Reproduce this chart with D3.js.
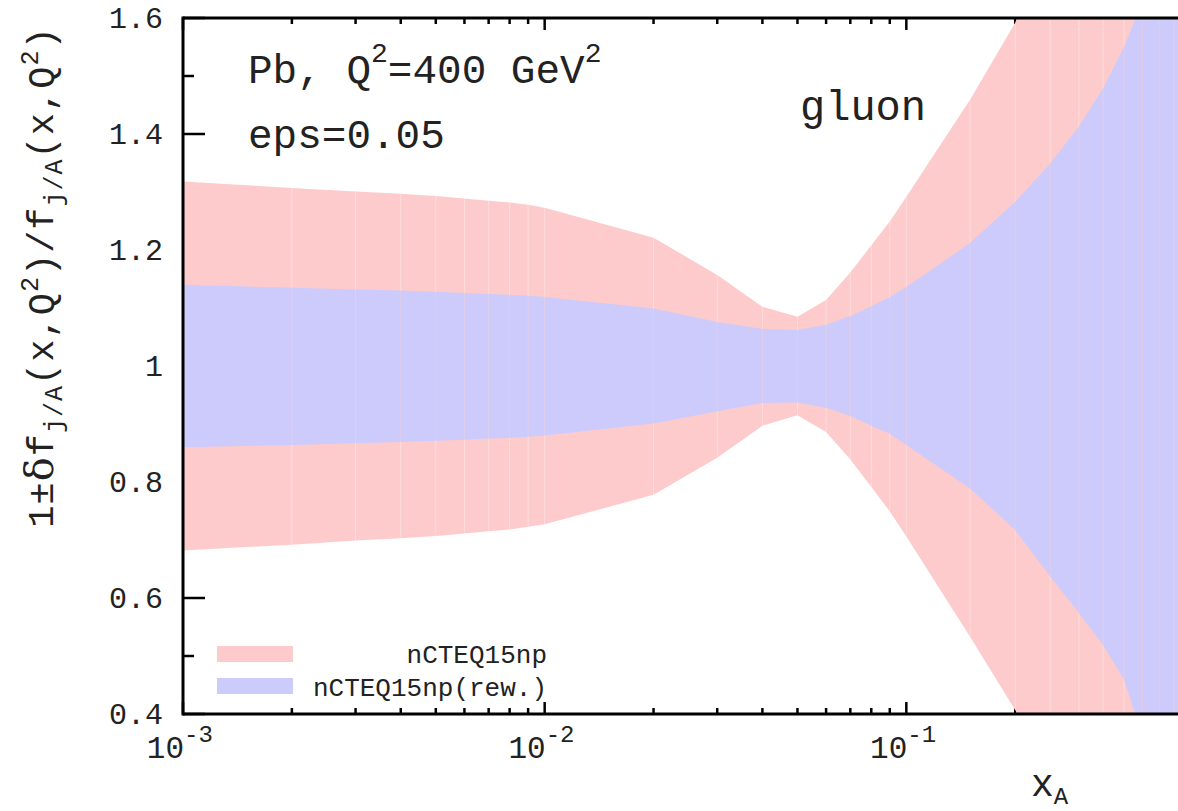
<!DOCTYPE html>
<html>
<head>
<meta charset="utf-8">
<script src="https://cdn.jsdelivr.net/npm/d3@7"></script>
<style>
  body { margin: 0; background: #fff; }
  text { font-family: "Liberation Mono", "DejaVu Sans Mono", monospace; fill: #222; }
</style>
</head>
<body>
<div id="chart"></div>
<script>
// x grid of the bands (x_A)
var xGrid = [0.001, 0.002, 0.003, 0.004, 0.005, 0.006, 0.007, 0.008, 0.009,
             0.01, 0.02, 0.03, 0.04, 0.05, 0.06, 0.07, 0.08, 0.09,
             0.1, 0.15, 0.2, 0.25, 0.3, 0.35, 0.4, 0.45, 0.5, 0.55, 0.6];

// nCTEQ15np band (upper / lower)
var pinkUp = [1.318, 1.307, 1.301, 1.297, 1.293, 1.289, 1.285, 1.282, 1.278,
              1.273, 1.221, 1.157, 1.102, 1.085, 1.114, 1.161, 1.208, 1.249,
              1.292, 1.459, 1.592, 1.75, 1.92, 2.10, 2.30, 2.50, 2.70, 2.90, 3.10];
var pinkLo = [0.682, 0.692, 0.699, 0.703, 0.707, 0.711, 0.715, 0.718, 0.723,
              0.727, 0.778, 0.842, 0.897, 0.915, 0.886, 0.839, 0.792, 0.749,
              0.706, 0.533, 0.407, 0.29, 0.18, 0.07, -0.04, -0.15, -0.26, -0.37, -0.48];

// nCTEQ15np(rew.) band
var blueUp = [1.140, 1.135, 1.132, 1.130, 1.128, 1.126, 1.124, 1.123, 1.121,
              1.119, 1.099, 1.076, 1.064, 1.062, 1.071, 1.086, 1.103, 1.119,
              1.136, 1.212, 1.283, 1.349, 1.413, 1.479, 1.550, 1.63, 1.71, 1.79, 1.87];
var blueLo = [0.860, 0.864, 0.867, 0.869, 0.871, 0.873, 0.875, 0.876, 0.878,
              0.880, 0.901, 0.922, 0.936, 0.937, 0.928, 0.914, 0.897, 0.883,
              0.864, 0.789, 0.717, 0.637, 0.574, 0.519, 0.459, 0.36, 0.27, 0.18, 0.09];

var yTicks = [0.4, 0.6, 0.8, 1, 1.2, 1.4, 1.6];
var yMinor = [0.5, 0.7, 0.9, 1.1, 1.3, 1.5];
var xDecades = [0.001, 0.01, 0.1];
var xDecadeExp = ["-3", "-2", "-1"];
var legNames = ["nCTEQ15np", "nCTEQ15np(rew.)"];

(function() {
  var W = 1178, H = 811;
  // frame runs past the right edge of the picture
  var mLeft = 183, mTop = 18, mBottom = 714, mRight = 1268;

  var svg = d3.select("#chart").append("svg")
      .attr("width", W).attr("height", H);

  var x = d3.scaleLog().domain([0.001, 1]).range([mLeft, mRight]);
  var y = d3.scaleLinear().domain([0.4, 1.6]).range([mBottom, mTop]);

  svg.append("clipPath").attr("id", "plotclip")
    .append("rect").attr("x", mLeft).attr("y", mTop)
    .attr("width", mRight - mLeft).attr("height", mBottom - mTop);

  // minor x ticks (2..9 in every decade)
  var xMinor = [];
  [0.001, 0.01, 0.1].forEach(function(d) {
    for (var k = 2; k <= 9; k++) xMinor.push(d * k);
  });

  var ticks = svg.append("g").attr("stroke", "#000").attr("stroke-width", 2.5);
  xMinor.forEach(function(v) {
    ticks.append("line").attr("x1", x(v)).attr("x2", x(v)).attr("y1", mBottom).attr("y2", mBottom - 6);
    ticks.append("line").attr("x1", x(v)).attr("x2", x(v)).attr("y1", mTop).attr("y2", mTop + 6);
  });
  xDecades.forEach(function(v) {
    ticks.append("line").attr("x1", x(v)).attr("x2", x(v)).attr("y1", mBottom).attr("y2", mBottom - 12);
    ticks.append("line").attr("x1", x(v)).attr("x2", x(v)).attr("y1", mTop).attr("y2", mTop + 12);
  });
  yTicks.forEach(function(v) {
    ticks.append("line").attr("x1", mLeft).attr("x2", mLeft + 22).attr("y1", y(v)).attr("y2", y(v));
  });
  yMinor.forEach(function(v) {
    ticks.append("line").attr("x1", mLeft).attr("x2", mLeft + 11).attr("y1", y(v)).attr("y2", y(v));
  });

  // bands
  var rows = xGrid.map(function(d, i) {
    return { x: d, pu: pinkUp[i], pl: pinkLo[i], bu: blueUp[i], bl: blueLo[i] };
  });

  var plot = svg.append("g").attr("clip-path", "url(#plotclip)");

  var pinkArea = d3.area().x(function(d) { return x(d.x); })
      .y0(function(d) { return y(d.pl); }).y1(function(d) { return y(d.pu); });
  var blueArea = d3.area().x(function(d) { return x(d.x); })
      .y0(function(d) { return y(d.bl); }).y1(function(d) { return y(d.bu); });

  plot.append("path").datum(rows).attr("d", pinkArea).attr("fill", "#fdcbcb");
  plot.selectAll(".seam-p").data(rows).enter().append("line")
      .attr("x1", function(d) { return x(d.x); }).attr("x2", function(d) { return x(d.x); })
      .attr("y1", function(d) { return y(d.pl); }).attr("y2", function(d) { return y(d.pu); })
      .attr("stroke", "#fff").attr("stroke-opacity", 0.35).attr("stroke-width", 1);

  plot.append("path").datum(rows).attr("d", blueArea).attr("fill", "#cccbfc");
  plot.selectAll(".seam-b").data(rows).enter().append("line")
      .attr("x1", function(d) { return x(d.x); }).attr("x2", function(d) { return x(d.x); })
      .attr("y1", function(d) { return y(d.bl); }).attr("y2", function(d) { return y(d.bu); })
      .attr("stroke", "#fcd0d0").attr("stroke-opacity", 0.45).attr("stroke-width", 1);

  // frame
  var frame = svg.append("g").attr("stroke", "#000").attr("stroke-width", 3).attr("fill", "none");
  frame.append("line").attr("x1", mLeft).attr("x2", W).attr("y1", mTop).attr("y2", mTop);
  frame.append("line").attr("x1", mLeft).attr("x2", W).attr("y1", mBottom).attr("y2", mBottom);
  frame.append("line").attr("x1", mLeft).attr("x2", mLeft).attr("y1", mTop - 1.5).attr("y2", mBottom + 1.5);

  // y tick labels
  svg.selectAll(".ylab").data(yTicks).enter().append("text")
      .attr("x", 163).attr("y", function(d) { return y(d) + 10; })
      .attr("text-anchor", "end").attr("font-size", 30)
      .text(function(d) { return d === 1 ? "1" : d.toFixed(1); });

  // x tick labels: 10^n
  xDecades.forEach(function(v, i) {
    svg.append("text").attr("x", x(v) + 1).attr("y", 758)
       .attr("text-anchor", "end").attr("font-size", 31).text("10");
    svg.append("text").attr("x", x(v) + 1).attr("y", 742)
       .attr("text-anchor", "start").attr("font-size", 24).text(xDecadeExp[i]);
  });

  // x axis label
  var xl = svg.append("text").attr("x", 1031).attr("y", 796).attr("font-size", 38);
  xl.append("tspan").text("x");
  xl.append("tspan").attr("dy", 8).attr("font-size", 24).text("A");

  // y axis label
  var yl = svg.append("text")
      .attr("transform", "translate(53,277) rotate(-90)")
      .attr("text-anchor", "middle").attr("font-size", 37)
      .attr("letter-spacing", 1).attr("fill", "#2a2a2a");
  yl.append("tspan").text("1±");
  yl.append("tspan").attr("font-family", "DejaVu Serif").attr("font-size", 40).text("δ");
  yl.append("tspan").text("f");
  yl.append("tspan").attr("dy", 9).attr("font-size", 25).text("j/A");
  yl.append("tspan").attr("dy", -9).text("(x,Q");
  yl.append("tspan").attr("dy", -15).attr("font-size", 25).text("2");
  yl.append("tspan").attr("dy", 15).text(")/f");
  yl.append("tspan").attr("dy", 9).attr("font-size", 25).text("j/A");
  yl.append("tspan").attr("dy", -9).text("(x,Q");
  yl.append("tspan").attr("dy", -15).attr("font-size", 25).text("2");
  yl.append("tspan").attr("dy", 15).text(")");

  // annotations
  var t1 = svg.append("text").attr("x", 248).attr("y", 83).attr("font-size", 41);
  t1.append("tspan").text("Pb, Q");
  t1.append("tspan").attr("dy", -21).attr("font-size", 28).text("2");
  t1.append("tspan").attr("dy", 21).text("=400 GeV");
  t1.append("tspan").attr("dy", -21).attr("font-size", 28).text("2");

  svg.append("text").attr("x", 248).attr("y", 148).attr("font-size", 41).text("eps=0.05");
  svg.append("text").attr("x", 800).attr("y", 120).attr("font-size", 42).text("gluon");

  // legend
  var legColors = ["#fdcbcb", "#cccbfc"];
  legNames.forEach(function(n, i) {
    svg.append("rect").attr("x", 217).attr("y", 646 + i * 32)
       .attr("width", 76).attr("height", 16).attr("fill", legColors[i]);
    svg.append("text").attr("x", 547).attr("y", 663 + i * 33)
       .attr("text-anchor", "end").attr("font-size", 26).text(n);
  });
})();
</script>
</body>
</html>
